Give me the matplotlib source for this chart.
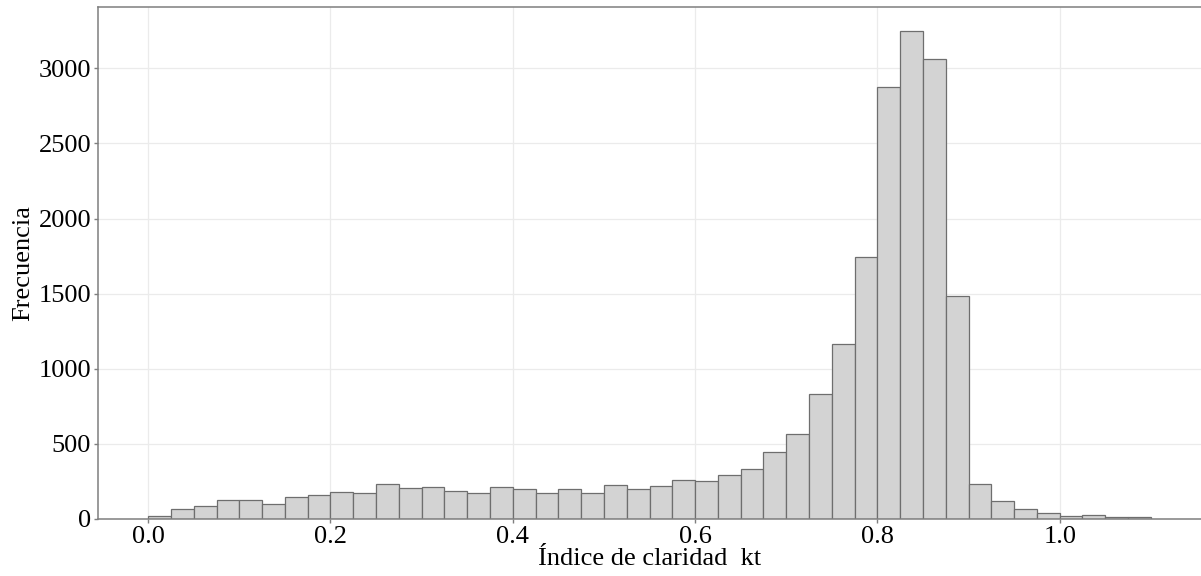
import numpy as np
import matplotlib
matplotlib.use("Agg")
import matplotlib.pyplot as plt

# histogram of clearness index kt, bin width 0.025 starting at 0
bin_width = 0.025
counts = [22, 65, 89, 125, 127, 102, 149, 162, 182, 175,
          233, 209, 211, 187, 173, 211, 200, 176, 200, 176,
          227, 202, 220, 260, 253, 291, 331, 447, 567, 835,
          1167, 1745, 2878, 3247, 3064, 1482, 235, 120, 67, 40,
          22, 29, 15, 15]
x_ticks = [0.0, 0.2, 0.4, 0.6, 0.8, 1.0]
y_ticks = [0, 500, 1000, 1500, 2000, 2500, 3000]

edges = np.arange(len(counts) + 1) * bin_width

plt.rcParams['font.family'] = ['Liberation Serif', 'DejaVu Serif']

fig = plt.figure(figsize=(12.01, 5.76), dpi=100)
ax = fig.add_axes([0.0816, 0.099, 0.9184, 0.889])

ax.bar(edges[:-1], counts, width=bin_width, align='edge',
       color='#d3d3d3', edgecolor='#6e6e6e', linewidth=0.9, zorder=2)

span = edges[-1] - edges[0]
ax.set_xlim(edges[0] - 0.05 * span, edges[-1] + 0.05 * span)
ax.set_ylim(0, max(counts) * 1.05)
ax.set_xticks(x_ticks)
ax.set_xticklabels(['%.1f' % v for v in x_ticks])
ax.set_yticks(y_ticks)

ax.grid(True, color='#ebebeb', linewidth=0.9, zorder=0)
ax.set_axisbelow(True)
for side in ['left', 'bottom', 'top']:
    ax.spines[side].set_color('#7f7f7f')
    ax.spines[side].set_linewidth(1.1)
ax.spines['right'].set_visible(False)
ax.tick_params(axis='both', colors='#7f7f7f', length=3, width=1,
               labelsize=19, labelcolor='black', pad=2)

ax.set_xlabel('Índice de claridad  kt', fontsize=19, labelpad=0)
ax.set_ylabel('Frecuencia', fontsize=19, labelpad=3)

fig.savefig('out.png', dpi=100)
